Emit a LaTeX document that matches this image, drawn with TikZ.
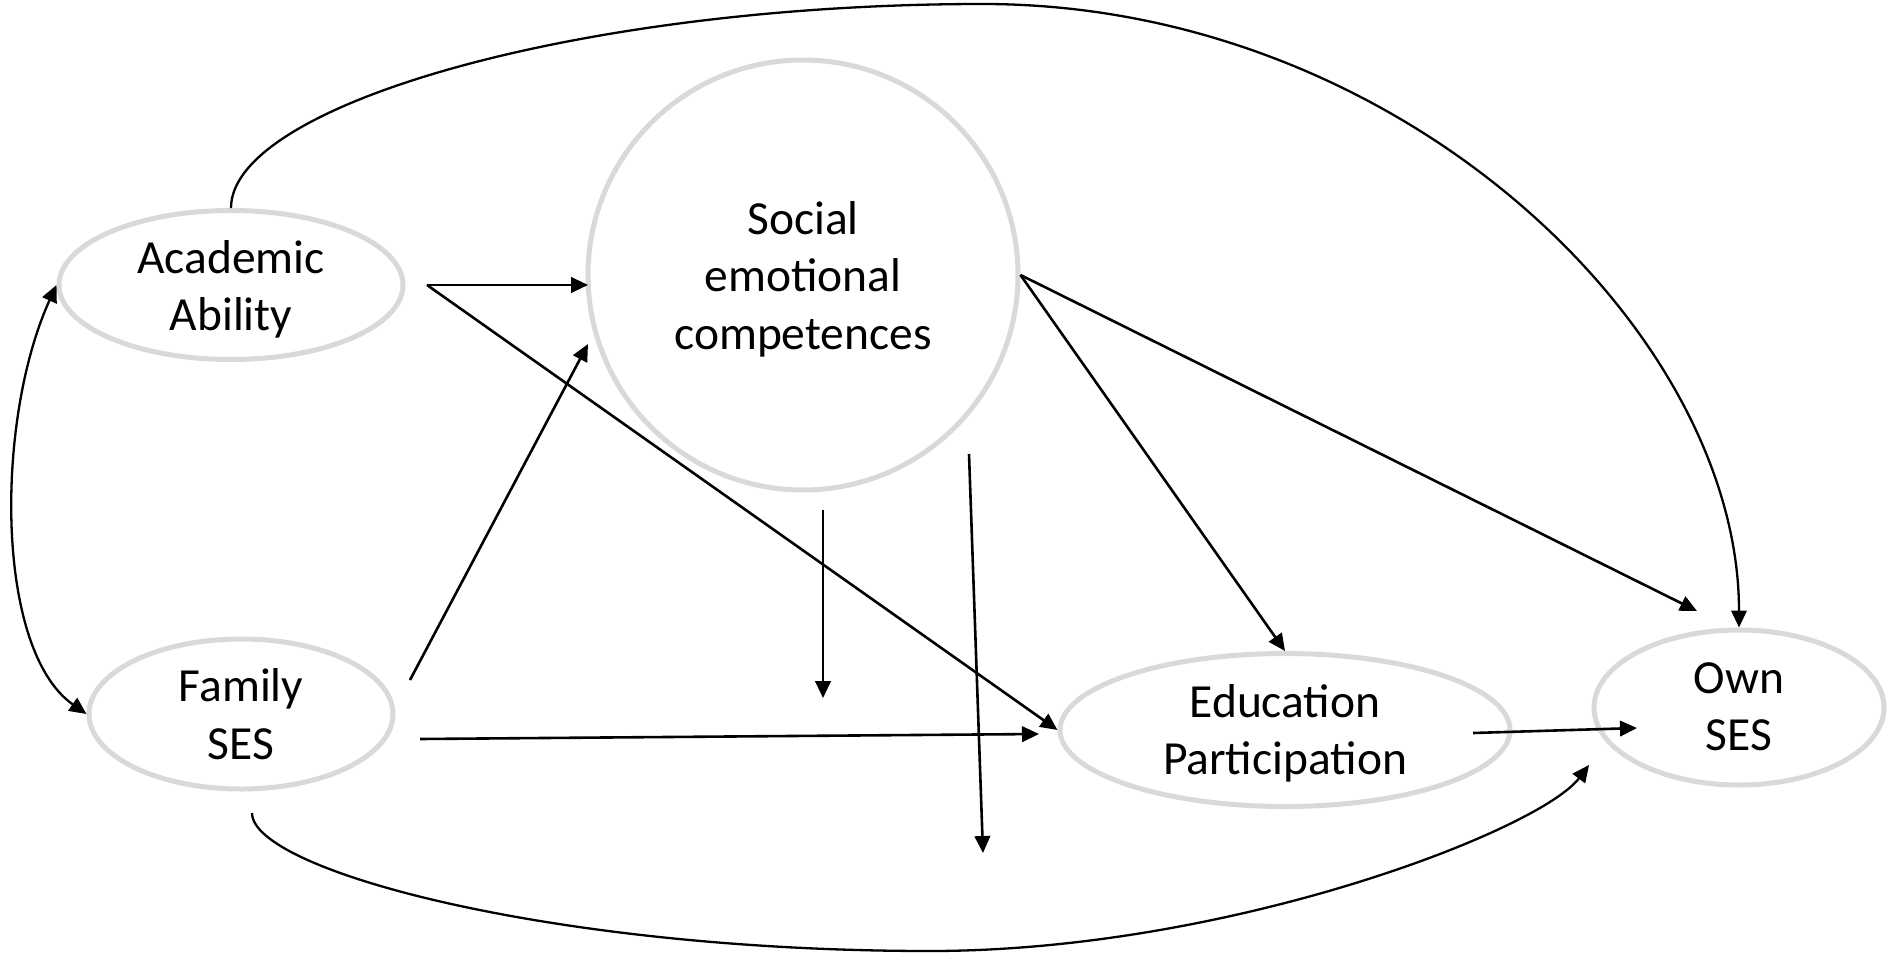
\documentclass[tikz,border=0pt]{standalone}
\usepackage{fontspec}
\setmainfont{Carlito}
\usetikzlibrary{arrows.meta,shapes.geometric}
\definecolor{ellgray}{RGB}{217,217,217}
\begin{document}
\begin{tikzpicture}[x=1pt,y=-1pt,
  lbl/.style={align=center, inner sep=0pt, font=\fontsize{47.5pt}{57.5pt}\selectfont},
  var/.style={ellipse, draw=ellgray, line width=5pt, inner sep=0pt},
  tipA/.style={-{Triangle[length=17pt,width=15.5pt]}},
  conn/.style={line width=2.6pt, tipA},
  curv/.style={line width=2.3pt, tipA}]
\useasboundingbox (0,0) rectangle (1887,955);
\fill[white] (0,0) rectangle (1887,955);

% variables
\node[var, minimum width=344pt, minimum height=149pt] (aa) at (231,285) {};
\node[var, minimum width=304pt, minimum height=150pt] (fs) at (241,714) {};
\node[circle, draw=ellgray, line width=5pt, inner sep=0pt, minimum size=430pt] (sec) at (803,275) {};
\node[var, minimum width=450pt, minimum height=153pt] (ep) at (1285,730) {};
\node[var, minimum width=290pt, minimum height=155pt] (os) at (1739,707.5) {};

% texts
\node[lbl] (aaT) at (231,289.5) {Academic\\Ability};
\node[lbl] (fsT) at (241,714) {Family\\SES};
\node[lbl] (secT) at (803,279) {Social\\emotional\\competences};
\node[lbl] (epT) at (1285,733.5) {Education\\Participation};
\node[lbl] (osT) at (1739,706.5) {Own\\SES};

% free ends
\coordinate (aaOut) at (427,285);
\coordinate (secInA) at (588,285);
\coordinate (fsOutA) at (410,680);
\coordinate (secInB) at (588,344);
\coordinate (fsOutB) at (420,739);
\coordinate (epInB) at (1039,734);
\coordinate (osInA) at (1697,611);
\coordinate (epOut) at (1473,733);
\coordinate (osInB) at (1637,728);
\coordinate (modA1) at (823,510);
\coordinate (modA2) at (823,698);
\coordinate (modB1) at (969,454);
\coordinate (modB2) at (983,853);
\coordinate (topMid) at (983,4);
\coordinate (fsBot) at (252,813);
\coordinate (botMid) at (930,951);
\coordinate (osInC) at (1589,765);

% straight paths
\draw[conn] (aaOut) -- (secInA);
\draw[conn] (aaOut) -- (ep.west);
\draw[conn] (fsOutA) -- (secInB);
\draw[conn] (fsOutB) -- (epInB);
\draw[conn] (sec.east) -- (ep.north);
\draw[conn] (sec.east) -- (osInA);
\draw[conn] (epOut) -- (osInB);
\draw[conn] (modA1) -- (modA2);
\draw[conn] (modB1) -- (modB2);

% curved paths
\draw[curv] (aa.north) .. controls (231,105) and (580,4) .. (topMid)
  .. controls (1400,4) and (1739,330) .. (os.north);
\draw[curv] (fsBot) .. controls (252,870) and (550,951) .. (botMid)
  .. controls (1230,951) and (1540,830) .. (osInC);
\draw[line width=2.3pt, {Triangle[length=17pt,width=15.5pt]}-{Triangle[length=17pt,width=15.5pt]}]
  (aa.west) .. controls (-5,420) and (-5,650) .. (fs.west);
\end{tikzpicture}
\end{document}
